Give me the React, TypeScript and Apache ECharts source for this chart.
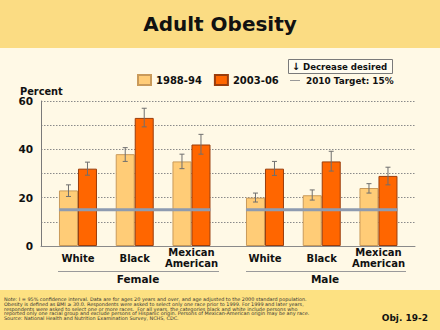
import React, { useEffect, useRef } from "react";
import * as echarts from "echarts";

const categories = ["White", "Black", "Mexican\nAmerican"];
const seriesNames = ["1988-94", "2003-06"];
const female1988 = [23, 38, 35];
const female2003 = [32, 53, 42];
const male1988 = [20, 21, 24];
const male2003 = [32, 35, 29];
const female1988Low = [20.5, 35, 32];
const female1988High = [25.3, 40.7, 38];
const female2003Low = [29.3, 49.3, 38];
const female2003High = [34.7, 57, 46.2];
const male1988Low = [18.2, 19, 21.9];
const male1988High = [21.9, 23.2, 25.8];
const male2003Low = [29.2, 31, 25.3];
const male2003High = [35, 39.2, 32.6];
const target = 15;
const yTicks = [0, 20, 40, 60];

const FONT = "DejaVu Sans";
const LIGHT = "#ffcc77";
const LIGHT_BORDER = "#c99a5a";
const DARK = "#ff6600";
const DARK_BORDER = "#9a3d0c";
const BAR_W = 19;

const footnote = [
  "Note: I = 95% confidence interval. Data are for ages 20 years and over, and age adjusted to the 2000 standard population.",
  "Obesity is defined as BMI \u2265 30.0. Respondents were asked to select only one race prior to 1999. For 1999 and later years,",
  "respondents were asked to select one or more races.  For all years, the categories black and white include persons who",
  "reported only one racial group and exclude persons of Hispanic origin. Persons of Mexican-American origin may be any race.",
  "Source: National Health and Nutrition Examination Survey, NCHS, CDC.",
].join("\n");

function errorSeries(axisIdx: number, lows: number[], highs: number[], offset: number) {
  return {
    type: "custom",
    xAxisIndex: axisIdx,
    yAxisIndex: axisIdx,
    z: 4,
    silent: true,
    encode: { x: 0, y: [1, 2] },
    data: lows.map((l, i) => [i, l, highs[i]]),
    renderItem: (params: any, api: any) => {
      const lo = api.coord([api.value(0), api.value(1)]);
      const hi = api.coord([api.value(0), api.value(2)]);
      const cx = lo[0] + offset;
      const st = { stroke: "#6f6f6f", lineWidth: 1 };
      return {
        type: "group",
        children: [
          { type: "line", shape: { x1: cx, y1: lo[1], x2: cx, y2: hi[1] }, style: st },
          { type: "line", shape: { x1: cx - 2.5, y1: lo[1], x2: cx + 2.5, y2: lo[1] }, style: st },
          { type: "line", shape: { x1: cx - 2.5, y1: hi[1], x2: cx + 2.5, y2: hi[1] }, style: st },
        ],
      };
    },
  };
}

function targetSeries(axisIdx: number) {
  return {
    type: "custom",
    xAxisIndex: axisIdx,
    yAxisIndex: axisIdx,
    z: 5,
    silent: true,
    encode: { x: [0, 1], y: 2 },
    data: [[0, categories.length - 1, target]],
    renderItem: (params: any, api: any) => {
      const a = api.coord([api.value(0), api.value(2)]);
      const b = api.coord([api.value(1), api.value(2)]);
      return {
        type: "line",
        shape: { x1: a[0] - BAR_W, y1: a[1], x2: b[0] + BAR_W, y2: b[1] },
        style: { stroke: "#8e9bb0", lineWidth: 3 },
      };
    },
  };
}

function barSeries(axisIdx: number, name: string, data: number[], color: string, border: string) {
  return {
    type: "bar",
    name,
    xAxisIndex: axisIdx,
    yAxisIndex: axisIdx,
    data,
    barWidth: BAR_W,
    barGap: "0%",
    itemStyle: { color, borderColor: border, borderWidth: 1 },
  };
}

export default function App() {
  const ref = useRef<HTMLDivElement>(null);
  useEffect(() => {
    if (!ref.current) return;
    const chart = echarts.init(ref.current, undefined, { renderer: "svg" });
    const catAxis = (gi: number) => ({
      type: "category",
      gridIndex: gi,
      data: categories,
      axisLine: { show: false },
      axisTick: { show: false },
      axisLabel: {
        fontFamily: FONT,
        fontWeight: "bold",
        fontSize: 10,
        color: "#111",
        lineHeight: 10.5,
        verticalAlign: "middle",
        margin: 12,
        interval: 0,
      },
    });
    const hiddenY = (gi: number) => ({
      type: "value",
      gridIndex: gi,
      min: 0,
      max: 60,
      interval: 10,
      show: false,
    });
    const option: any = {
      animation: false,
      backgroundColor: "#fff9e6",
      grid: [
        { left: 41, right: 25, top: 101, bottom: 84 },
        { left: 49.6, width: 170.25, top: 101, bottom: 84 },
        { left: 236.6, width: 170.25, top: 101, bottom: 84 },
      ],
      xAxis: [
        {
          type: "value",
          gridIndex: 0,
          min: 0,
          max: 1,
          axisLine: { show: true, lineStyle: { color: "#8a8a8a", width: 1 } },
          axisTick: { show: false },
          axisLabel: { show: false },
          splitLine: { show: false },
        },
        catAxis(1),
        catAxis(2),
      ],
      yAxis: [
        {
          type: "value",
          gridIndex: 0,
          min: 0,
          max: 60,
          interval: 10,
          axisLine: { show: true, lineStyle: { color: "#7a7a7a", width: 1 } },
          axisTick: { show: false },
          axisLabel: {
            fontFamily: FONT,
            fontWeight: "bold",
            fontSize: 10.5,
            color: "#111",
            margin: 8,
            formatter: (v: number) => (yTicks.indexOf(v) >= 0 ? String(v) : ""),
          },
          splitLine: {
            show: true,
            lineStyle: { color: "#8a8a8a", type: [1.5, 1.5], width: 1 },
          },
        },
        hiddenY(1),
        hiddenY(2),
      ],
      legend: {
        data: seriesNames,
        icon: "rect",
        left: 132,
        top: 69,
        itemWidth: 13,
        itemHeight: 10,
        itemGap: 12,
        textStyle: { fontFamily: FONT, fontWeight: "bold", fontSize: 10, color: "#111" },
        selectedMode: false,
      },
      series: [
        barSeries(1, seriesNames[0], female1988, LIGHT, LIGHT_BORDER),
        barSeries(1, seriesNames[1], female2003, DARK, DARK_BORDER),
        barSeries(2, seriesNames[0], male1988, LIGHT, LIGHT_BORDER),
        barSeries(2, seriesNames[1], male2003, DARK, DARK_BORDER),
        errorSeries(1, female1988Low, female1988High, -BAR_W / 2),
        errorSeries(1, female2003Low, female2003High, BAR_W / 2),
        errorSeries(2, male1988Low, male1988High, -BAR_W / 2),
        errorSeries(2, male2003Low, male2003High, BAR_W / 2),
        targetSeries(1),
        targetSeries(2),
      ],
      graphic: [
        { type: "rect", z: -10, shape: { x: 0, y: 0, width: 440, height: 48 }, style: { fill: "#fbdc83" } },
        { type: "rect", z: -10, shape: { x: 0, y: 290, width: 440, height: 40 }, style: { fill: "#fde182" } },
        {
          type: "text",
          x: 220,
          y: 24,
          style: {
            text: "Adult Obesity",
            fontFamily: FONT,
            fontWeight: "bold",
            fontSize: 20,
            fill: "#111",
            textAlign: "center",
            textVerticalAlign: "middle",
          },
        },
        {
          type: "rect",
          shape: { x: 288.5, y: 59.5, width: 104, height: 14 },
          style: { fill: "#fffcf0", stroke: "#7a7a7a", lineWidth: 1 },
        },
        {
          type: "text",
          x: 296,
          y: 66.5,
          style: { text: "\u2193", fontFamily: FONT, fontWeight: "bold", fontSize: 10, fill: "#111", textAlign: "center", textVerticalAlign: "middle" },
        },
        {
          type: "text",
          x: 303,
          y: 66.5,
          style: { text: "Decrease desired", fontFamily: FONT, fontWeight: "bold", fontSize: 8.6, fill: "#111", textVerticalAlign: "middle" },
        },
        {
          type: "line",
          shape: { x1: 290, y1: 80.5, x2: 300, y2: 80.5 },
          style: { stroke: "#999", lineWidth: 1 },
        },
        {
          type: "text",
          x: 306,
          y: 80.5,
          style: { text: "2010 Target: 15%", fontFamily: FONT, fontWeight: "bold", fontSize: 8.9, fill: "#111", textVerticalAlign: "middle" },
        },
        {
          type: "text",
          x: 20,
          y: 91,
          style: { text: "Percent", fontFamily: FONT, fontWeight: "bold", fontSize: 9.8, fill: "#111", textVerticalAlign: "middle" },
        },
        {
          type: "line",
          shape: { x1: 58, y1: 271.5, x2: 219, y2: 271.5 },
          style: { stroke: "#9a9a9a", lineWidth: 1 },
        },
        {
          type: "line",
          shape: { x1: 246, y1: 271.5, x2: 406, y2: 271.5 },
          style: { stroke: "#9a9a9a", lineWidth: 1 },
        },
        {
          type: "text",
          x: 138,
          y: 278.5,
          style: { text: "Female", fontFamily: FONT, fontWeight: "bold", fontSize: 10.5, fill: "#111", textAlign: "center", textVerticalAlign: "middle" },
        },
        {
          type: "text",
          x: 325,
          y: 278.5,
          style: { text: "Male", fontFamily: FONT, fontWeight: "bold", fontSize: 10.5, fill: "#111", textAlign: "center", textVerticalAlign: "middle" },
        },
        {
          type: "text",
          x: 4,
          y: 296.5,
          style: { text: footnote, fontFamily: FONT, fontSize: 4.9, lineHeight: 4.8, fill: "#333" },
        },
        {
          type: "text",
          x: 428,
          y: 318,
          style: { text: "Obj. 19-2", fontFamily: FONT, fontWeight: "bold", fontSize: 9, fill: "#111", textAlign: "right", textVerticalAlign: "middle" },
        },
      ],
    };
    chart.setOption(option);
    return () => chart.dispose();
  }, []);
  return (
    <div
      ref={ref}
      style={{ position: "fixed", left: 0, top: 0, width: 440, height: 330 }}
    />
  );
}
